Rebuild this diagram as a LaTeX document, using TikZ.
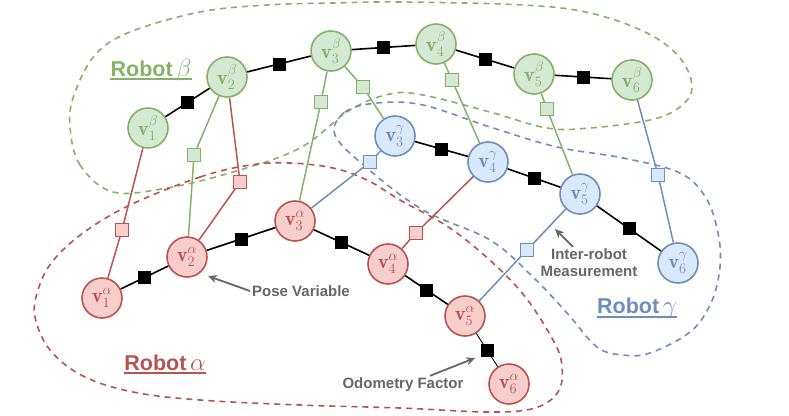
\documentclass[tikz,border=0pt]{standalone}
\usepackage{amsmath,bm}
\usepackage{fontspec}
\newfontfamily\lblfont{Liberation Sans}
\usetikzlibrary{calc,arrows.meta}

\definecolor{redS}{HTML}{B85450}   \definecolor{redF}{HTML}{F8CECC}
\definecolor{greenS}{HTML}{82B366} \definecolor{greenF}{HTML}{D5E8D4}
\definecolor{blueS}{HTML}{6C8EBF}  \definecolor{blueF}{HTML}{DAE8FC}
\definecolor{txtgray}{HTML}{666666}

\newcommand{\bigsym}[1]{{\fontsize{27}{27}\selectfont$#1$}}
\newcommand{\posev}[2]{{\fontsize{20.5}{22}\selectfont$\mathbf{v}^{#1}_{#2}$}}

\begin{document}
\begin{tikzpicture}[x=1pt,y=-1pt,
  pose/.style={circle,line width=1.6pt,minimum size=40pt,inner sep=0pt},
  poseA/.style={pose,draw=redS,fill=redF,text=redS},
  poseB/.style={pose,draw=greenS,fill=greenF,text=greenS},
  poseG/.style={pose,draw=blueS,fill=blueF,text=blueS},
  odo/.style={rectangle,fill=black,minimum size=13pt,inner sep=0pt},
  odoline/.style={draw=black,line width=1.6pt},
  meas/.style={rectangle,line width=1.2pt,minimum size=12.5pt,inner sep=0pt},
  region/.style={line width=1.6pt,dash pattern=on 6pt off 5pt},
  note/.style={draw=txtgray,line width=1.8pt,-{Stealth[length=9pt,width=8pt]}},
  notetext/.style={text=txtgray,inner sep=2pt,font=\lblfont\bfseries\fontsize{15}{18}\selectfont},
  robot/.style={inner sep=0pt,anchor=base,font=\lblfont\bfseries\fontsize{21.5}{24}\selectfont}]
  \useasboundingbox (0,0) rectangle (789,415);

  % robot regions
  \draw[region,greenS] plot[smooth cycle,tension=0.6] coordinates {
    (113,192) (80,165) (70,127) (74,95) (95,55) (130,32) (200,12) (267,5) (333,3) (400,2)
    (523,5) (590,13) (647,33) (680,58) (692,87) (680,107) (650,120) (590,128) (547,128)
    (490,112) (423,95) (390,94) (350,110) (300,148) (233,172) (167,188)};
  \draw[region,blueS] plot[smooth cycle,tension=0.6] coordinates {
    (335,135) (345,112) (377,103) (423,105) (490,127) (557,147) (623,158) (680,173)
    (706,198) (718,233) (720,267) (711,303) (690,332) (650,353) (623,355) (597,347)
    (567,313) (533,277) (490,240) (423,210) (367,168)};
  \draw[region,redS] plot[smooth cycle,tension=0.6] coordinates {
    (130,205) (200,177) (250,165) (290,163) (333,168) (367,180) (400,200) (457,233)
    (517,287) (553,340) (562,367) (558,392) (535,408) (490,412) (400,408) (300,405)
    (200,400) (133,392) (83,376) (50,350) (35,317) (38,290) (52,262) (83,233)};

  % pose variables
  \foreach \n/\x/\y in {1/102/298, 2/187/257, 3/295/221, 4/388/264, 5/465/316, 6/509/384}
    \node[poseA] (a\n) at (\x,\y) {\posev{\alpha}{\n}};
  \foreach \n/\x/\y in {1/148/128, 2/227/77, 3/331/51, 4/436/44, 5/534/74, 6/632/80}
    \node[poseB] (b\n) at (\x,\y) {\posev{\beta}{\n}};
  \foreach \n/\x/\y in {3/395/136, 4/488/162, 5/580/194, 6/678/263}
    \node[poseG] (g\n) at (\x,\y) {\posev{\gamma}{\n}};

  % odometry factors
  \foreach \i/\j in {1/2,2/3,3/4,4/5}
    \draw[odoline] (a\i) -- node[odo] (oa\i) {} (a\j);
  \draw[draw=black,line width=0.9pt] (a5) -- node[odo] (oa5) {} (a6);
  \foreach \i/\j in {1/2,2/3,3/4,4/5,5/6}
    \draw[odoline] (b\i) -- node[odo] (ob\i) {} (b\j);
  \foreach \i/\j in {3/4,4/5,5/6}
    \draw[odoline] (g\i) -- node[odo] (og\i) {} (g\j);

  % inter-robot measurements
  \foreach \m/\x/\y/\c/\p/\q in {1/122/230/red/b1/a1, 2/194/155/green/b2/a2, 3/240/182/red/b2/a2,
      4/321/102/green/b3/a3, 5/363/87/green/b3/g3, 6/370/162/blue/g3/a3, 7/452/80/green/b4/g4,
      8/547/109/green/b5/g5, 9/658/175/blue/b6/g6, 10/416/233/red/g4/a4, 11/527/250/blue/g5/a5}{
    \node[meas,draw=\c S,fill=\c F] (m\m) at (\x,\y) {};
    \draw[\c S,line width=1.5pt] (\p) -- (m\m) -- (\q);
  }

  % labels
  \node[robot,text=greenS] (rb) at (151,76) {Robot\,\bigsym{\beta}};
  \node[robot,text=redS] (ra) at (165,370) {Robot\,\bigsym{\alpha}};
  \node[robot,text=blueS] (rg) at (637,313) {Robot\,\bigsym{\gamma}};
  \draw[greenS,line width=1.5pt] ([yshift=-3pt]rb.base west) -- ([yshift=-3pt]rb.base east);
  \draw[redS,line width=1.5pt] ([yshift=-3pt]ra.base west) -- ([yshift=-3pt]ra.base east);
  \draw[blueS,line width=1.5pt] ([yshift=-4pt]rg.base west) -- ([yshift=-4pt]rg.base east);

  \node[notetext] (pv) at (301,291) {Pose Variable};
  \coordinate (pvtip) at (208,276);
  \draw[note] (pv.west) -- (pvtip);
  \node[notetext,align=center] (ir) at (589,263) {Inter-robot\\[-1pt]Measurement};
  \coordinate (irtip) at (555,229);
  \draw[note] ([xshift=-16pt]ir.north) -- (irtip);
  \node[notetext] (of) at (403,385) {Odometry Factor};
  \coordinate (oftip) at (475,358);
  \draw[note] ([xshift=27pt]of.north) -- (oftip);
\end{tikzpicture}
\end{document}
